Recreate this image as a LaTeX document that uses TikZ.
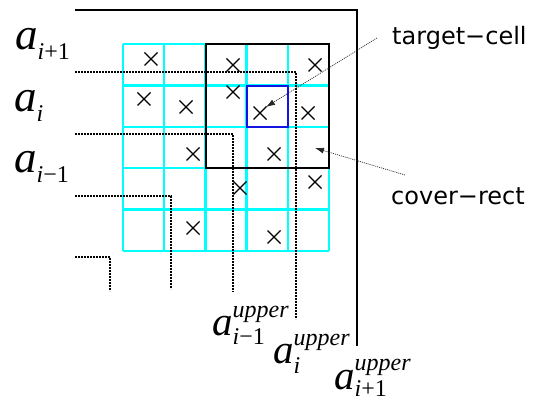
\documentclass[tikz,border=0pt]{standalone}
\usepackage{fontspec}
\setmainfont{Liberation Serif}
\newfontfamily\tagfont{DejaVu Sans}
\usetikzlibrary{arrows.meta}
\definecolor{gridcyan}{RGB}{0,255,255}
\definecolor{cellblue}{RGB}{20,20,225}
% italic "a" at a given size, and the index/exponent size
\newcommand\bigA[1]{{\fontsize{#1}{#1}\selectfont\itshape a}}
\newcommand\idx[1]{{\fontsize{24}{24}\selectfont #1}}
\begin{document}
\begin{tikzpicture}[x=1pt,y=-1pt,
  gridline/.style={draw=gridcyan,line width=2.3pt},
  coverbox/.style={draw=black,line width=2pt},
  cellbox/.style={draw=cellblue,line width=2pt},
  frame/.style={draw=black,line width=2pt},
  bound/.style={draw=black,line width=1.8pt,dash pattern=on 1.6pt off 1.4pt},
  xmark/.style={draw=black,line width=1.2pt},
  lbl/.style={inner sep=0pt,anchor=base west},
  tagtext/.style={inner sep=0pt,anchor=base west,font=\tagfont\fontsize{24}{24}\selectfont},
  pointer/.style={draw=black!85,line width=0.7pt,dash pattern=on 1pt off 1pt,
    -{Latex[length=9pt,width=6pt]}}]
\useasboundingbox (0,0) rectangle (546,403);

% cyan 5x5 grid
\foreach \i in {0,...,5}{
  \draw[gridline] ({123+41.2*\i},44) -- ({123+41.2*\i},251);
  \draw[gridline] (123,{44+41.4*\i}) -- (329,{44+41.4*\i});
}

% cover rectangle and target cell
\draw[coverbox] (206,44) rectangle (329,168);
\draw[cellbox] (247,86) rectangle (288,127);

% outer frame
\draw[frame] (75,10) -- (357,10) -- (357,346);

% staircase boundaries
\draw[bound] (75,72) -| (296,319);
\draw[bound] (75,134) -| (233,292);
\draw[bound] (75,196) -| (171,289);
\draw[bound] (75,257) -| (110,291);

% occupied cells
\foreach \x/\y in {151/59,233/65,315/65,
                   144/99,186/107,233/92,260/113,308/113,
                   193/154,274/154,
                   240/188,315/182,
                   193/228,274/237}{
  \draw[xmark] (\x-6.5,\y-6.5) -- (\x+6.5,\y+6.5);
  \draw[xmark] (\x-6.5,\y+6.5) -- (\x+6.5,\y-6.5);
}

% row labels
\node[lbl] (aip) at (15,50) {\bigA{45}\raisebox{-10pt}{\idx{\textit{i}+1}}};
\node[lbl] (ai)  at (14,112) {\bigA{45}\raisebox{-10pt}{\idx{\textit{i}}}};
\node[lbl] (aim) at (14,173) {\bigA{45}\raisebox{-10pt}{\idx{\textit{i}−1}}};

% upper bound labels
\node[lbl] (uim) at (212,335) {\bigA{41}\rlap{\raisebox{-9pt}{\idx{\textit{i}−1}}}\raisebox{18pt}{\idx{\textit{upper}}}};
\node[lbl] (ui)  at (273,363) {\bigA{41}\rlap{\raisebox{-10pt}{\idx{\textit{i}}}}\raisebox{18pt}{\idx{\textit{upper}}}};
\node[lbl] (uip) at (334,389) {\bigA{41}\rlap{\raisebox{-7pt}{\idx{\textit{i}+1}}}\raisebox{19pt}{\idx{\textit{upper}}}};

% callouts
\node[tagtext] (tgt) at (392,45) {target−cell};
\node[tagtext] (cov) at (391,205) {cover−rect};
\coordinate (tgtfrom) at (377,38);
\coordinate (tgtto) at (266,107);
\coordinate (covfrom) at (405,175);
\coordinate (covto) at (315,148);
\draw[pointer] (tgtfrom) -- (tgtto);
\draw[pointer] (covfrom) -- (covto);
\end{tikzpicture}
\end{document}
